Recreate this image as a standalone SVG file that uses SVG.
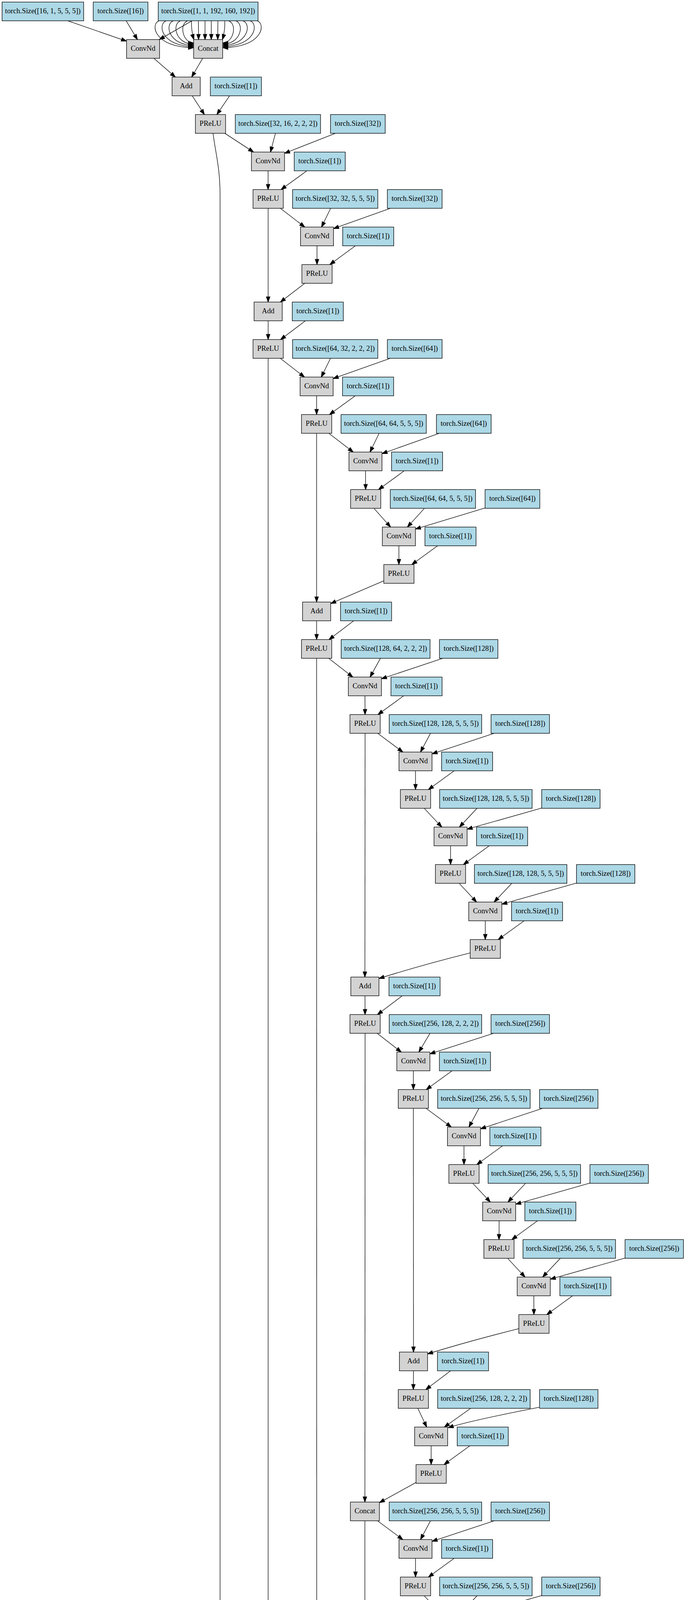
<svg xmlns="http://www.w3.org/2000/svg" width="1755" height="7739" viewBox="0 0 1755 7739">
<style>
.g rect{fill:#d3d3d3;stroke:#000;stroke-width:1.33}
.b rect{fill:#add8e6;stroke:#000;stroke-width:1.33}
text{font-family:"Liberation Serif","Times New Roman",serif;font-size:18.67px;text-anchor:middle;fill:#000}
#edges path{fill:none;stroke:#000;stroke-width:1.33;marker-end:url(#a)}
</style>
<defs>
<marker id="a" viewBox="0 0 14 10" markerUnits="userSpaceOnUse" markerWidth="14" markerHeight="10" refX="13.3" refY="4.67" orient="auto" overflow="visible"><path d="M0,0L13.3,4.67L0,9.33z" fill="#000" stroke="#000" stroke-width="1.33"/></marker>
</defs>
<rect width="1755" height="7739" fill="#fff"/>
<g id="edges">
<path d="M173.8,53.33L323.7,105.4"/>
<path d="M322.9,53.33L351.6,101.33"/>
<path d="M490.9,53.33L407.6,101.33"/>
<path d="M490,53.33C489,72 492,88 496,101.33"/>
<path d="M507.5,53.33L508,101.33"/>
<path d="M524.5,53.33L524.5,101.33"/>
<path d="M540.5,53.33L540.5,101.33"/>
<path d="M557.5,53.33L557,101.33"/>
<path d="M575,53.33C576,72 573,88 569,101.33"/>
<path d="M480,53.33C457,62 468,110 495.3,110"/>
<path d="M461.7,53.33C438.7,62 449.7,113 495.3,113"/>
<path d="M443.3,53.33C420.3,62 431.3,116 495.3,116"/>
<path d="M425,53.33C402,62 413,119 495.3,119"/>
<path d="M406.7,53.33C383.7,62 394.7,122 495.3,122"/>
<path d="M585,53.33C608,62 597,110 569.7,110"/>
<path d="M603.3,53.33C626.3,62 615.3,113 569.7,113"/>
<path d="M621.7,53.33C644.7,62 633.7,116 569.7,116"/>
<path d="M640,53.33C663,62 652,119 569.7,119"/>
<path d="M658.3,53.33C681.3,62 670.3,122 569.7,122"/>
<path d="M393.6,149.33L448.7,197.33"/>
<path d="M518.45,149.33L490.35,197.33"/>
<path d="M491.85,245.33L522.95,293.33"/>
<path d="M587.25,245.33L554.75,293.33"/>
<path d="M575.3,341.33L648.8,389.33"/>
<path d="M704.65,341.33L691.95,389.33"/>
<path d="M858,341.33L727.9,392.5"/>
<path d="M545,341.33C552,395 563,430 563,500L563,6290C563,6370 587,6400 593,6437.33"/>
<path d="M685.8,437.33L685.9,485.33"/>
<path d="M785,437.33L719,485.33"/>
<path d="M717.25,533.33L779.75,581.33"/>
<path d="M845.9,533.33L822.6,581.33"/>
<path d="M998.5,533.33L853.3,585.2"/>
<path d="M686,533.33L686,773.33"/>
<path d="M811,629.33L811,677.33"/>
<path d="M909.25,629.33L843.75,677.33"/>
<path d="M779.75,725.33L717.25,773.33"/>
<path d="M686,821.33L686,869.33"/>
<path d="M781.25,821.33L717.75,869.33"/>
<path d="M717,917.33L779,965.33"/>
<path d="M845.6,917.33L821.9,965.33"/>
<path d="M998.25,917.33L852.3,969.2"/>
<path d="M686,917.33L686,5765.33"/>
<path d="M810,1013.33L810,1061.33"/>
<path d="M908.8,1013.33L842.9,1061.33"/>
<path d="M841.25,1109.33L903.75,1157.33"/>
<path d="M969.9,1109.33L946.6,1157.33"/>
<path d="M1123.6,1109.33L977.3,1161.3"/>
<path d="M810,1109.33L810,1541.33"/>
<path d="M935.1,1205.33L935.4,1253.33"/>
<path d="M1034.1,1205.33L968.4,1253.33"/>
<path d="M956.75,1301.33L999.25,1349.33"/>
<path d="M1085.75,1301.33L1042.25,1349.33"/>
<path d="M1241,1300.46L1062.8,1354.3"/>
<path d="M1020.5,1397.33L1020.5,1445.33"/>
<path d="M1119.5,1397.33L1053.5,1445.33"/>
<path d="M981.85,1486.96L846,1545.1"/>
<path d="M810,1589.33L810,1637.33"/>
<path d="M904.9,1589.33L841.6,1637.33"/>
<path d="M840.9,1685.33L902.6,1733.33"/>
<path d="M973.25,1685.33L946.75,1733.33"/>
<path d="M1132.6,1685.33L975.8,1737.7"/>
<path d="M810,1685.33L810.4,4901.33"/>
<path d="M933.6,1781.33L933.9,1829.33"/>
<path d="M1032.7,1781.33L966.9,1829.33"/>
<path d="M966.25,1877.33L1030.75,1925.33"/>
<path d="M1101.25,1877.33L1075.75,1925.33"/>
<path d="M1264,1877.33L1105.3,1929.8"/>
<path d="M934,1877.33L933.5,2501.33"/>
<path d="M1063,1973.33L1063,2021.33"/>
<path d="M1162,1973.33L1096,2021.33"/>
<path d="M1085.4,2069.33L1130.3,2117.33"/>
<path d="M1220.4,2069.33L1175.3,2117.33"/>
<path d="M1385.8,2068.63L1195,2122.7"/>
<path d="M1152.6,2165.33L1152.6,2213.33"/>
<path d="M1251.5,2165.33L1185.5,2213.33"/>
<path d="M1174.75,2261.33L1219.25,2309.33"/>
<path d="M1309.4,2261.33L1264.1,2309.33"/>
<path d="M1474.8,2260.61L1283.8,2314.7"/>
<path d="M1241.5,2357.33L1241.5,2405.33"/>
<path d="M1340.9,2357.33L1274.6,2405.33"/>
<path d="M1203.3,2439.3Q1075.3,2471.3 969.5,2505"/>
<path d="M933.7,2549.33L933.9,2597.33"/>
<path d="M1028.9,2549.33L965.6,2597.33"/>
<path d="M964.9,2645.33L1026.6,2693.33"/>
<path d="M1099.9,2645.33L1071.6,2693.33"/>
<path d="M1262.6,2645.33L1099.8,2697.9"/>
<path d="M934,2645.33L933.5,3845.33"/>
<path d="M1057.5,2741.33L1057.5,2789.33"/>
<path d="M1156.5,2741.33L1090.5,2789.33"/>
<path d="M1089.9,2837.33L1154.6,2885.33"/>
<path d="M1225.25,2837.33L1199.75,2885.33"/>
<path d="M1388,2837.33L1229.3,2889.8"/>
<path d="M1057.5,2837.33L1057.8,3461.33"/>
<path d="M1187,2933.33L1187,2981.33"/>
<path d="M1285.6,2933.33L1219.9,2981.33"/>
<path d="M1209.5,3029.33L1254.5,3077.33"/>
<path d="M1344.5,3029.33L1299.5,3077.33"/>
<path d="M1509.3,3028.69L1319.3,3082.7"/>
<path d="M1276.9,3125.33L1276.6,3173.33"/>
<path d="M1375.1,3125.33L1309.4,3173.33"/>
<path d="M1298.75,3221.33L1343.25,3269.33"/>
<path d="M1433.6,3221.33L1388.2,3269.33"/>
<path d="M1599.1,3220.59L1407.8,3274.7"/>
<path d="M1365.6,3317.33L1365.9,3365.33"/>
<path d="M1464.8,3317.33L1398.9,3365.33"/>
<path d="M1327.35,3401.37Q1199.35,3433.4 1093.8,3466"/>
<path d="M1057.8,3509.33L1057.5,3557.33"/>
<path d="M1152.75,3509.33L1089.25,3557.33"/>
<path d="M1068.9,3605.33L1091.6,3653.33"/>
<path d="M1204.25,3605.33L1136.75,3653.33"/>
<path d="M1379.3,3602.7Q1206.3,3636.4 1146.5,3654.8"/>
<path d="M1103,3701.33L1103,3749.33"/>
<path d="M1202,3701.33L1136,3749.33"/>
<path d="M1064.35,3795.2L970.6,3846.8"/>
<path d="M965.9,3893.33L1030.6,3941.33"/>
<path d="M1101.25,3893.33L1075.75,3941.33"/>
<path d="M1264,3893.33L1105.3,3945.8"/>
<path d="M933.5,3893.33L933.5,4517.33"/>
<path d="M1063,3989.33L1063,4037.33"/>
<path d="M1162,3989.33L1096,4037.33"/>
<path d="M1085.4,4085.33L1130.3,4133.33"/>
<path d="M1220.4,4085.33L1175.3,4133.33"/>
<path d="M1385.8,4084.63L1195,4138.7"/>
<path d="M1152.6,4181.33L1152.6,4229.33"/>
<path d="M1251.5,4181.33L1185.5,4229.33"/>
<path d="M1174.75,4277.33L1219.25,4325.33"/>
<path d="M1309.4,4277.33L1264.1,4325.33"/>
<path d="M1474.8,4276.61L1283.8,4330.7"/>
<path d="M1241.5,4373.33L1241.5,4421.33"/>
<path d="M1340.9,4373.33L1274.6,4421.33"/>
<path d="M1202.85,4457.38Q1074.85,4489.4 969.5,4521"/>
<path d="M933.6,4565.33L933.9,4613.33"/>
<path d="M1028.9,4565.33L965.6,4613.33"/>
<path d="M944.9,4661.33L966.8,4709.33"/>
<path d="M1076.9,4661.33L1010.8,4709.33"/>
<path d="M1248,4657.08Q1111.3,4683.7 1020.5,4711"/>
<path d="M977.6,4757.33L977.6,4805.33"/>
<path d="M1076.9,4757.33L1010.6,4805.33"/>
<path d="M938.85,4851.5L847.5,4902.7"/>
<path d="M842.4,4949.33L906.5,4997.33"/>
<path d="M977.1,4949.33L951.4,4997.33"/>
<path d="M1139.6,4949.33L980.8,5001.8"/>
<path d="M810.4,4949.33L810,5381.33"/>
<path d="M938.5,5045.33L938.5,5093.33"/>
<path d="M1037.9,5045.33L971.6,5093.33"/>
<path d="M961,5141.33L1006,5189.33"/>
<path d="M1096.4,5141.33L1051.1,5189.33"/>
<path d="M1261.8,5140.61L1070.8,5194.7"/>
<path d="M1028.4,5237.33L1028.1,5285.33"/>
<path d="M1127,5237.33L1061,5285.33"/>
<path d="M989.35,5326.35L846,5385.4"/>
<path d="M810,5429.33L810,5477.33"/>
<path d="M904.9,5429.33L841.6,5477.33"/>
<path d="M821,5525.33L843,5573.33"/>
<path d="M953,5525.33L887,5573.33"/>
<path d="M1124,5521.1Q987.3,5547.8 896.8,5575"/>
<path d="M854,5621.33L854,5669.33"/>
<path d="M953,5621.33L887,5669.33"/>
<path d="M815.35,5715.4L723.1,5766.7"/>
<path d="M717.25,5813.33L779.75,5861.33"/>
<path d="M845.5,5813.33L822.5,5861.33"/>
<path d="M998.1,5813.33L853.3,5865.2"/>
<path d="M686,5813.33L686,6053.33"/>
<path d="M811,5909.33L811,5957.33"/>
<path d="M909.6,5909.33L843.9,5957.33"/>
<path d="M779.75,6005.33L717.25,6053.33"/>
<path d="M686,6101.33L686,6149.33"/>
<path d="M781.25,6101.33L717.75,6149.33"/>
<path d="M696.6,6197.33L717.9,6245.33"/>
<path d="M825.25,6197.33L760.75,6245.33"/>
<path d="M992,6193.48Q871,6217.1 771.3,6247"/>
<path d="M728.5,6293.33L728.6,6341.33"/>
<path d="M827.9,6293.33L761.7,6341.33"/>
<path d="M697.4,6389.33L634.9,6437.33"/>
<path d="M640.5,6485.33L714.2,6533.33"/>
<path d="M768.25,6485.33L756.75,6533.33"/>
<path d="M920.5,6485.33L793.3,6536.4"/>
<path d="M608.9,6485.33L660.8,6725.33"/>
<path d="M751.1,6581.33L751.4,6629.33"/>
<path d="M850.1,6581.33L784.4,6629.33"/>
<path d="M730.1,6677.33L687.4,6725.33"/>
<path d="M681.5,6773.33L712.5,6821.33"/>
<path d="M776.75,6773.33L744.25,6821.33"/>
<path d="M766.65,6867.55L853.25,6917.33"/>
<path d="M895,6869.33L895,6917.33"/>
<path d="M1041.25,6869.33L937.3,6918.9"/>
<path d="M911.4,6965.33L944.3,7013.33"/>
<path d="M1010.4,6965.33L977.3,7013.33"/>
<path d="M999.35,7060.33L1081.7,7109.33"/>
<path d="M1122,7061.33L1122,7109.33"/>
<path d="M1264.9,7061.33L1164.3,7110.7"/>
<path d="M1122,7157.33L1122,7205.33"/>
<path d="M1122,7253.33L1122,7301.33"/>
<path d="M1122,7349.33L1122,7397.33"/>
<path d="M1122,7445.33L1122,7493.33"/>
<path d="M1122,7541.33L1122,7589.33"/>
<path d="M1146.4,7637.33L1195.1,7685.33"/>
<path d="M1292.6,7637.33L1243.9,7685.33"/>
</g>
<g id="nodes">
<g id="n0a" class="b"><rect x="5.35" y="5.33" width="208.7" height="48"/><text x="109.7" y="34.33">torch.Size([16, 1, 5, 5, 5])</text></g>
<g id="n0b" class="b"><rect x="238.5" y="5.33" width="140" height="48"/><text x="308.5" y="34.33">torch.Size([16])</text></g>
<g id="n0c" class="b"><rect x="404.8" y="5.33" width="255.4" height="48"/><text x="532.5" y="34.33">torch.Size([1, 1, 192, 160, 192])</text></g>
<g id="n1a" class="g"><rect x="323.7" y="101.33" width="84.6" height="48"/><text x="366" y="130.33">ConvNd</text></g>
<g id="n1b" class="g"><rect x="495.4" y="101.33" width="74.2" height="48"/><text x="532.5" y="130.33">Concat</text></g>
<g id="n2a" class="g"><rect x="440.3" y="197.33" width="72" height="48"/><text x="476.3" y="226.33">Add</text></g>
<g id="n2b" class="b"><rect x="538.15" y="197.33" width="130.7" height="48"/><text x="603.5" y="226.33">torch.Size([1])</text></g>
<g id="n3a" class="g"><rect x="499.85" y="293.33" width="77.3" height="48"/><text x="538.5" y="322.33">PReLU</text></g>
<g id="n3b" class="b"><rect x="601.95" y="293.33" width="218.1" height="48"/><text x="711" y="322.33">torch.Size([32, 16, 2, 2, 2])</text></g>
<g id="n3c" class="b"><rect x="845.5" y="293.33" width="140" height="48"/><text x="915.5" y="322.33">torch.Size([32])</text></g>
<g id="n4a" class="g"><rect x="643.3" y="389.33" width="84.6" height="48"/><text x="685.6" y="418.33">ConvNd</text></g>
<g id="n4b" class="b"><rect x="752.65" y="389.33" width="130.7" height="48"/><text x="818" y="418.33">torch.Size([1])</text></g>
<g id="n5a" class="g"><rect x="647.35" y="485.33" width="77.3" height="48"/><text x="686" y="514.33">PReLU</text></g>
<g id="n5b" class="b"><rect x="748.45" y="485.33" width="218.1" height="48"/><text x="857.5" y="514.33">torch.Size([32, 32, 5, 5, 5])</text></g>
<g id="n5c" class="b"><rect x="991" y="485.33" width="140" height="48"/><text x="1061" y="514.33">torch.Size([32])</text></g>
<g id="n6a" class="g"><rect x="768.7" y="581.33" width="84.6" height="48"/><text x="811" y="610.33">ConvNd</text></g>
<g id="n6b" class="b"><rect x="876.65" y="581.33" width="130.7" height="48"/><text x="942" y="610.33">torch.Size([1])</text></g>
<g id="n7a" class="g"><rect x="772.35" y="677.33" width="77.3" height="48"/><text x="811" y="706.33">PReLU</text></g>
<g id="n8a" class="g"><rect x="650" y="773.33" width="72" height="48"/><text x="686" y="802.33">Add</text></g>
<g id="n8b" class="b"><rect x="747.65" y="773.33" width="130.7" height="48"/><text x="813" y="802.33">torch.Size([1])</text></g>
<g id="n9a" class="g"><rect x="647.35" y="869.33" width="77.3" height="48"/><text x="686" y="898.33">PReLU</text></g>
<g id="n9b" class="b"><rect x="748.45" y="869.33" width="218.1" height="48"/><text x="857.5" y="898.33">torch.Size([64, 32, 2, 2, 2])</text></g>
<g id="n9c" class="b"><rect x="991" y="869.33" width="140" height="48"/><text x="1061" y="898.33">torch.Size([64])</text></g>
<g id="n10a" class="g"><rect x="767.7" y="965.33" width="84.6" height="48"/><text x="810" y="994.33">ConvNd</text></g>
<g id="n10b" class="b"><rect x="876.35" y="965.33" width="130.7" height="48"/><text x="941.7" y="994.33">torch.Size([1])</text></g>
<g id="n11a" class="g"><rect x="771.35" y="1061.33" width="77.3" height="48"/><text x="810" y="1090.33">PReLU</text></g>
<g id="n11b" class="b"><rect x="872.45" y="1061.33" width="218.1" height="48"/><text x="981.5" y="1090.33">torch.Size([64, 64, 5, 5, 5])</text></g>
<g id="n11c" class="b"><rect x="1116.5" y="1061.33" width="140" height="48"/><text x="1186.5" y="1090.33">torch.Size([64])</text></g>
<g id="n12a" class="g"><rect x="892.7" y="1157.33" width="84.6" height="48"/><text x="935" y="1186.33">ConvNd</text></g>
<g id="n12b" class="b"><rect x="1001.65" y="1157.33" width="130.7" height="48"/><text x="1067" y="1186.33">torch.Size([1])</text></g>
<g id="n13a" class="g"><rect x="896.85" y="1253.33" width="77.3" height="48"/><text x="935.5" y="1282.33">PReLU</text></g>
<g id="n13b" class="b"><rect x="998.45" y="1253.33" width="218.1" height="48"/><text x="1107.5" y="1282.33">torch.Size([64, 64, 5, 5, 5])</text></g>
<g id="n13c" class="b"><rect x="1241" y="1253.33" width="140" height="48"/><text x="1311" y="1282.33">torch.Size([64])</text></g>
<g id="n14a" class="g"><rect x="978.2" y="1349.33" width="84.6" height="48"/><text x="1020.5" y="1378.33">ConvNd</text></g>
<g id="n14b" class="b"><rect x="1087.15" y="1349.33" width="130.7" height="48"/><text x="1152.5" y="1378.33">torch.Size([1])</text></g>
<g id="n15a" class="g"><rect x="981.85" y="1445.33" width="77.3" height="48"/><text x="1020.5" y="1474.33">PReLU</text></g>
<g id="n16a" class="g"><rect x="774" y="1541.33" width="72" height="48"/><text x="810" y="1570.33">Add</text></g>
<g id="n16b" class="b"><rect x="871.15" y="1541.33" width="130.7" height="48"/><text x="936.5" y="1570.33">torch.Size([1])</text></g>
<g id="n17a" class="g"><rect x="771.35" y="1637.33" width="77.3" height="48"/><text x="810" y="1666.33">PReLU</text></g>
<g id="n17b" class="b"><rect x="872.8" y="1637.33" width="227.4" height="48"/><text x="986.5" y="1666.33">torch.Size([128, 64, 2, 2, 2])</text></g>
<g id="n17c" class="b"><rect x="1124.3" y="1637.33" width="149.4" height="48"/><text x="1199" y="1666.33">torch.Size([128])</text></g>
<g id="n18a" class="g"><rect x="891.2" y="1733.33" width="84.6" height="48"/><text x="933.5" y="1762.33">ConvNd</text></g>
<g id="n18b" class="b"><rect x="1000.25" y="1733.33" width="130.7" height="48"/><text x="1065.6" y="1762.33">torch.Size([1])</text></g>
<g id="n19a" class="g"><rect x="895.35" y="1829.33" width="77.3" height="48"/><text x="934" y="1858.33">PReLU</text></g>
<g id="n19b" class="b"><rect x="995.65" y="1829.33" width="236.7" height="48"/><text x="1114" y="1858.33">torch.Size([128, 128, 5, 5, 5])</text></g>
<g id="n19c" class="b"><rect x="1256.3" y="1829.33" width="149.4" height="48"/><text x="1331" y="1858.33">torch.Size([128])</text></g>
<g id="n20a" class="g"><rect x="1020.7" y="1925.33" width="84.6" height="48"/><text x="1063" y="1954.33">ConvNd</text></g>
<g id="n20b" class="b"><rect x="1129.65" y="1925.33" width="130.7" height="48"/><text x="1195" y="1954.33">torch.Size([1])</text></g>
<g id="n21a" class="g"><rect x="1024.35" y="2021.33" width="77.3" height="48"/><text x="1063" y="2050.33">PReLU</text></g>
<g id="n21b" class="b"><rect x="1124.65" y="2021.33" width="236.7" height="48"/><text x="1243" y="2050.33">torch.Size([128, 128, 5, 5, 5])</text></g>
<g id="n21c" class="b"><rect x="1385.8" y="2021.33" width="149.4" height="48"/><text x="1460.5" y="2050.33">torch.Size([128])</text></g>
<g id="n22a" class="g"><rect x="1110.4" y="2117.33" width="84.6" height="48"/><text x="1152.7" y="2146.33">ConvNd</text></g>
<g id="n22b" class="b"><rect x="1219.15" y="2117.33" width="130.7" height="48"/><text x="1284.5" y="2146.33">torch.Size([1])</text></g>
<g id="n23a" class="g"><rect x="1113.85" y="2213.33" width="77.3" height="48"/><text x="1152.5" y="2242.33">PReLU</text></g>
<g id="n23b" class="b"><rect x="1213.65" y="2213.33" width="236.7" height="48"/><text x="1332" y="2242.33">torch.Size([128, 128, 5, 5, 5])</text></g>
<g id="n23c" class="b"><rect x="1474.8" y="2213.33" width="149.4" height="48"/><text x="1549.5" y="2242.33">torch.Size([128])</text></g>
<g id="n24a" class="g"><rect x="1199.2" y="2309.33" width="84.6" height="48"/><text x="1241.5" y="2338.33">ConvNd</text></g>
<g id="n24b" class="b"><rect x="1308.65" y="2309.33" width="130.7" height="48"/><text x="1374" y="2338.33">torch.Size([1])</text></g>
<g id="n25a" class="g"><rect x="1202.85" y="2405.33" width="77.3" height="48"/><text x="1241.5" y="2434.33">PReLU</text></g>
<g id="n26a" class="g"><rect x="897.5" y="2501.33" width="72" height="48"/><text x="933.5" y="2530.33">Add</text></g>
<g id="n26b" class="b"><rect x="995.15" y="2501.33" width="130.7" height="48"/><text x="1060.5" y="2530.33">torch.Size([1])</text></g>
<g id="n27a" class="g"><rect x="895.35" y="2597.33" width="77.3" height="48"/><text x="934" y="2626.33">PReLU</text></g>
<g id="n27b" class="b"><rect x="995.65" y="2597.33" width="236.7" height="48"/><text x="1114" y="2626.33">torch.Size([256, 128, 2, 2, 2])</text></g>
<g id="n27c" class="b"><rect x="1256.3" y="2597.33" width="149.4" height="48"/><text x="1331" y="2626.33">torch.Size([256])</text></g>
<g id="n28a" class="g"><rect x="1015.2" y="2693.33" width="84.6" height="48"/><text x="1057.5" y="2722.33">ConvNd</text></g>
<g id="n28b" class="b"><rect x="1124.15" y="2693.33" width="130.7" height="48"/><text x="1189.5" y="2722.33">torch.Size([1])</text></g>
<g id="n29a" class="g"><rect x="1018.85" y="2789.33" width="77.3" height="48"/><text x="1057.5" y="2818.33">PReLU</text></g>
<g id="n29b" class="b"><rect x="1119.65" y="2789.33" width="236.7" height="48"/><text x="1238" y="2818.33">torch.Size([256, 256, 5, 5, 5])</text></g>
<g id="n29c" class="b"><rect x="1380.3" y="2789.33" width="149.4" height="48"/><text x="1455" y="2818.33">torch.Size([256])</text></g>
<g id="n30a" class="g"><rect x="1144.7" y="2885.33" width="84.6" height="48"/><text x="1187" y="2914.33">ConvNd</text></g>
<g id="n30b" class="b"><rect x="1253.15" y="2885.33" width="130.7" height="48"/><text x="1318.5" y="2914.33">torch.Size([1])</text></g>
<g id="n31a" class="g"><rect x="1148.35" y="2981.33" width="77.3" height="48"/><text x="1187" y="3010.33">PReLU</text></g>
<g id="n31b" class="b"><rect x="1248.65" y="2981.33" width="236.7" height="48"/><text x="1367" y="3010.33">torch.Size([256, 256, 5, 5, 5])</text></g>
<g id="n31c" class="b"><rect x="1509.3" y="2981.33" width="149.4" height="48"/><text x="1584" y="3010.33">torch.Size([256])</text></g>
<g id="n32a" class="g"><rect x="1234.7" y="3077.33" width="84.6" height="48"/><text x="1277" y="3106.33">ConvNd</text></g>
<g id="n32b" class="b"><rect x="1342.65" y="3077.33" width="130.7" height="48"/><text x="1408" y="3106.33">torch.Size([1])</text></g>
<g id="n33a" class="g"><rect x="1237.85" y="3173.33" width="77.3" height="48"/><text x="1276.5" y="3202.33">PReLU</text></g>
<g id="n33b" class="b"><rect x="1337.95" y="3173.33" width="236.7" height="48"/><text x="1456.3" y="3202.33">torch.Size([256, 256, 5, 5, 5])</text></g>
<g id="n33c" class="b"><rect x="1599.1" y="3173.33" width="149.4" height="48"/><text x="1673.8" y="3202.33">torch.Size([256])</text></g>
<g id="n34a" class="g"><rect x="1323.2" y="3269.33" width="84.6" height="48"/><text x="1365.5" y="3298.33">ConvNd</text></g>
<g id="n34b" class="b"><rect x="1432.35" y="3269.33" width="130.7" height="48"/><text x="1497.7" y="3298.33">torch.Size([1])</text></g>
<g id="n35a" class="g"><rect x="1327.35" y="3365.33" width="77.3" height="48"/><text x="1366" y="3394.33">PReLU</text></g>
<g id="n36a" class="g"><rect x="1021.8" y="3461.33" width="72" height="48"/><text x="1057.8" y="3490.33">Add</text></g>
<g id="n36b" class="b"><rect x="1119.15" y="3461.33" width="130.7" height="48"/><text x="1184.5" y="3490.33">torch.Size([1])</text></g>
<g id="n37a" class="g"><rect x="1018.85" y="3557.33" width="77.3" height="48"/><text x="1057.5" y="3586.33">PReLU</text></g>
<g id="n37b" class="b"><rect x="1119.65" y="3557.33" width="236.7" height="48"/><text x="1238" y="3586.33">torch.Size([256, 128, 2, 2, 2])</text></g>
<g id="n37c" class="b"><rect x="1380.3" y="3557.33" width="149.4" height="48"/><text x="1455" y="3586.33">torch.Size([128])</text></g>
<g id="n38a" class="g"><rect x="1060.7" y="3653.33" width="84.6" height="48"/><text x="1103" y="3682.33">ConvNd</text></g>
<g id="n38b" class="b"><rect x="1169.65" y="3653.33" width="130.7" height="48"/><text x="1235" y="3682.33">torch.Size([1])</text></g>
<g id="n39a" class="g"><rect x="1064.35" y="3749.33" width="77.3" height="48"/><text x="1103" y="3778.33">PReLU</text></g>
<g id="n40a" class="g"><rect x="896.4" y="3845.33" width="74.2" height="48"/><text x="933.5" y="3874.33">Concat</text></g>
<g id="n40b" class="b"><rect x="995.65" y="3845.33" width="236.7" height="48"/><text x="1114" y="3874.33">torch.Size([256, 256, 5, 5, 5])</text></g>
<g id="n40c" class="b"><rect x="1256.3" y="3845.33" width="149.4" height="48"/><text x="1331" y="3874.33">torch.Size([256])</text></g>
<g id="n41a" class="g"><rect x="1020.7" y="3941.33" width="84.6" height="48"/><text x="1063" y="3970.33">ConvNd</text></g>
<g id="n41b" class="b"><rect x="1129.65" y="3941.33" width="130.7" height="48"/><text x="1195" y="3970.33">torch.Size([1])</text></g>
<g id="n42a" class="g"><rect x="1024.35" y="4037.33" width="77.3" height="48"/><text x="1063" y="4066.33">PReLU</text></g>
<g id="n42b" class="b"><rect x="1124.65" y="4037.33" width="236.7" height="48"/><text x="1243" y="4066.33">torch.Size([256, 256, 5, 5, 5])</text></g>
<g id="n42c" class="b"><rect x="1385.8" y="4037.33" width="149.4" height="48"/><text x="1460.5" y="4066.33">torch.Size([256])</text></g>
<g id="n43a" class="g"><rect x="1110.4" y="4133.33" width="84.6" height="48"/><text x="1152.7" y="4162.33">ConvNd</text></g>
<g id="n43b" class="b"><rect x="1219.15" y="4133.33" width="130.7" height="48"/><text x="1284.5" y="4162.33">torch.Size([1])</text></g>
<g id="n44a" class="g"><rect x="1113.85" y="4229.33" width="77.3" height="48"/><text x="1152.5" y="4258.33">PReLU</text></g>
<g id="n44b" class="b"><rect x="1213.65" y="4229.33" width="236.7" height="48"/><text x="1332" y="4258.33">torch.Size([256, 256, 5, 5, 5])</text></g>
<g id="n44c" class="b"><rect x="1474.8" y="4229.33" width="149.4" height="48"/><text x="1549.5" y="4258.33">torch.Size([256])</text></g>
<g id="n45a" class="g"><rect x="1199.2" y="4325.33" width="84.6" height="48"/><text x="1241.5" y="4354.33">ConvNd</text></g>
<g id="n45b" class="b"><rect x="1308.65" y="4325.33" width="130.7" height="48"/><text x="1374" y="4354.33">torch.Size([1])</text></g>
<g id="n46a" class="g"><rect x="1202.85" y="4421.33" width="77.3" height="48"/><text x="1241.5" y="4450.33">PReLU</text></g>
<g id="n47a" class="g"><rect x="897.5" y="4517.33" width="72" height="48"/><text x="933.5" y="4546.33">Add</text></g>
<g id="n47b" class="b"><rect x="995.15" y="4517.33" width="130.7" height="48"/><text x="1060.5" y="4546.33">torch.Size([1])</text></g>
<g id="n48a" class="g"><rect x="895.35" y="4613.33" width="77.3" height="48"/><text x="934" y="4642.33">PReLU</text></g>
<g id="n48b" class="b"><rect x="996.3" y="4613.33" width="227.4" height="48"/><text x="1110" y="4642.33">torch.Size([256, 64, 2, 2, 2])</text></g>
<g id="n48c" class="b"><rect x="1248" y="4613.33" width="140" height="48"/><text x="1318" y="4642.33">torch.Size([64])</text></g>
<g id="n49a" class="g"><rect x="935.4" y="4709.33" width="84.6" height="48"/><text x="977.7" y="4738.33">ConvNd</text></g>
<g id="n49b" class="b"><rect x="1044.65" y="4709.33" width="130.7" height="48"/><text x="1110" y="4738.33">torch.Size([1])</text></g>
<g id="n50a" class="g"><rect x="938.85" y="4805.33" width="77.3" height="48"/><text x="977.5" y="4834.33">PReLU</text></g>
<g id="n51a" class="g"><rect x="773.3" y="4901.33" width="74.2" height="48"/><text x="810.4" y="4930.33">Concat</text></g>
<g id="n51b" class="b"><rect x="871.65" y="4901.33" width="236.7" height="48"/><text x="990" y="4930.33">torch.Size([128, 128, 5, 5, 5])</text></g>
<g id="n51c" class="b"><rect x="1131.9" y="4901.33" width="149.4" height="48"/><text x="1206.6" y="4930.33">torch.Size([128])</text></g>
<g id="n52a" class="g"><rect x="896.2" y="4997.33" width="84.6" height="48"/><text x="938.5" y="5026.33">ConvNd</text></g>
<g id="n52b" class="b"><rect x="1005.65" y="4997.33" width="130.7" height="48"/><text x="1071" y="5026.33">torch.Size([1])</text></g>
<g id="n53a" class="g"><rect x="899.85" y="5093.33" width="77.3" height="48"/><text x="938.5" y="5122.33">PReLU</text></g>
<g id="n53b" class="b"><rect x="1000.65" y="5093.33" width="236.7" height="48"/><text x="1119" y="5122.33">torch.Size([128, 128, 5, 5, 5])</text></g>
<g id="n53c" class="b"><rect x="1261.8" y="5093.33" width="149.4" height="48"/><text x="1336.5" y="5122.33">torch.Size([128])</text></g>
<g id="n54a" class="g"><rect x="986.2" y="5189.33" width="84.6" height="48"/><text x="1028.5" y="5218.33">ConvNd</text></g>
<g id="n54b" class="b"><rect x="1094.65" y="5189.33" width="130.7" height="48"/><text x="1160" y="5218.33">torch.Size([1])</text></g>
<g id="n55a" class="g"><rect x="989.35" y="5285.33" width="77.3" height="48"/><text x="1028" y="5314.33">PReLU</text></g>
<g id="n56a" class="g"><rect x="774" y="5381.33" width="72" height="48"/><text x="810" y="5410.33">Add</text></g>
<g id="n56b" class="b"><rect x="871.15" y="5381.33" width="130.7" height="48"/><text x="936.5" y="5410.33">torch.Size([1])</text></g>
<g id="n57a" class="g"><rect x="771.35" y="5477.33" width="77.3" height="48"/><text x="810" y="5506.33">PReLU</text></g>
<g id="n57b" class="b"><rect x="872.3" y="5477.33" width="227.4" height="48"/><text x="986" y="5506.33">torch.Size([128, 32, 2, 2, 2])</text></g>
<g id="n57c" class="b"><rect x="1124" y="5477.33" width="140" height="48"/><text x="1194" y="5506.33">torch.Size([32])</text></g>
<g id="n58a" class="g"><rect x="811.7" y="5573.33" width="84.6" height="48"/><text x="854" y="5602.33">ConvNd</text></g>
<g id="n58b" class="b"><rect x="920.65" y="5573.33" width="130.7" height="48"/><text x="986" y="5602.33">torch.Size([1])</text></g>
<g id="n59a" class="g"><rect x="815.35" y="5669.33" width="77.3" height="48"/><text x="854" y="5698.33">PReLU</text></g>
<g id="n60a" class="g"><rect x="648.9" y="5765.33" width="74.2" height="48"/><text x="686" y="5794.33">Concat</text></g>
<g id="n60b" class="b"><rect x="747.95" y="5765.33" width="218.1" height="48"/><text x="857" y="5794.33">torch.Size([64, 64, 5, 5, 5])</text></g>
<g id="n60c" class="b"><rect x="990.5" y="5765.33" width="140" height="48"/><text x="1060.5" y="5794.33">torch.Size([64])</text></g>
<g id="n61a" class="g"><rect x="768.7" y="5861.33" width="84.6" height="48"/><text x="811" y="5890.33">ConvNd</text></g>
<g id="n61b" class="b"><rect x="877.15" y="5861.33" width="130.7" height="48"/><text x="942.5" y="5890.33">torch.Size([1])</text></g>
<g id="n62a" class="g"><rect x="772.35" y="5957.33" width="77.3" height="48"/><text x="811" y="5986.33">PReLU</text></g>
<g id="n63a" class="g"><rect x="650" y="6053.33" width="72" height="48"/><text x="686" y="6082.33">Add</text></g>
<g id="n63b" class="b"><rect x="747.65" y="6053.33" width="130.7" height="48"/><text x="813" y="6082.33">torch.Size([1])</text></g>
<g id="n64a" class="g"><rect x="647.35" y="6149.33" width="77.3" height="48"/><text x="686" y="6178.33">PReLU</text></g>
<g id="n64b" class="b"><rect x="748.45" y="6149.33" width="218.1" height="48"/><text x="857.5" y="6178.33">torch.Size([64, 16, 2, 2, 2])</text></g>
<g id="n64c" class="b"><rect x="992" y="6149.33" width="140" height="48"/><text x="1062" y="6178.33">torch.Size([16])</text></g>
<g id="n65a" class="g"><rect x="686.2" y="6245.33" width="84.6" height="48"/><text x="728.5" y="6274.33">ConvNd</text></g>
<g id="n65b" class="b"><rect x="795.65" y="6245.33" width="130.7" height="48"/><text x="861" y="6274.33">torch.Size([1])</text></g>
<g id="n66a" class="g"><rect x="689.95" y="6341.33" width="77.3" height="48"/><text x="728.6" y="6370.33">PReLU</text></g>
<g id="n67a" class="g"><rect x="566.6" y="6437.33" width="74.2" height="48"/><text x="603.7" y="6466.33">Concat</text></g>
<g id="n67b" class="b"><rect x="664.95" y="6437.33" width="218.1" height="48"/><text x="774" y="6466.33">torch.Size([32, 32, 5, 5, 5])</text></g>
<g id="n67c" class="b"><rect x="907" y="6437.33" width="140" height="48"/><text x="977" y="6466.33">torch.Size([32])</text></g>
<g id="n68a" class="g"><rect x="708.7" y="6533.33" width="84.6" height="48"/><text x="751" y="6562.33">ConvNd</text></g>
<g id="n68b" class="b"><rect x="817.65" y="6533.33" width="130.7" height="48"/><text x="883" y="6562.33">torch.Size([1])</text></g>
<g id="n69a" class="g"><rect x="712.85" y="6629.33" width="77.3" height="48"/><text x="751.5" y="6658.33">PReLU</text></g>
<g id="n70a" class="g"><rect x="630" y="6725.33" width="72" height="48"/><text x="666" y="6754.33">Add</text></g>
<g id="n70b" class="b"><rect x="727.65" y="6725.33" width="130.7" height="48"/><text x="793" y="6754.33">torch.Size([1])</text></g>
<g id="n71a" class="g"><rect x="689.35" y="6821.33" width="77.3" height="48"/><text x="728" y="6850.33">PReLU</text></g>
<g id="n71b" class="b"><rect x="790.65" y="6821.33" width="208.7" height="48"/><text x="895" y="6850.33">torch.Size([2, 32, 5, 5, 5])</text></g>
<g id="n71c" class="b"><rect x="1024.65" y="6821.33" width="130.7" height="48"/><text x="1090" y="6850.33">torch.Size([2])</text></g>
<g id="n72a" class="g"><rect x="852.7" y="6917.33" width="84.6" height="48"/><text x="895" y="6946.33">ConvNd</text></g>
<g id="n72b" class="b"><rect x="961.65" y="6917.33" width="130.7" height="48"/><text x="1027" y="6946.33">torch.Size([1])</text></g>
<g id="n73a" class="g"><rect x="922.05" y="7013.33" width="77.3" height="48"/><text x="960.7" y="7042.33">PReLU</text></g>
<g id="n73b" class="b"><rect x="1022.3" y="7013.33" width="199.4" height="48"/><text x="1122" y="7042.33">torch.Size([2, 2, 1, 1, 1])</text></g>
<g id="n73c" class="b"><rect x="1247.15" y="7013.33" width="130.7" height="48"/><text x="1312.5" y="7042.33">torch.Size([2])</text></g>
<g id="n74a" class="g"><rect x="1079.7" y="7109.33" width="84.6" height="48"/><text x="1122" y="7138.33">ConvNd</text></g>
<g id="n75a" class="g"><rect x="1080.25" y="7205.33" width="83.5" height="48"/><text x="1122" y="7234.33">Permute</text></g>
<g id="n76a" class="g"><rect x="1086" y="7301.33" width="72" height="48"/><text x="1122" y="7330.33">View</text></g>
<g id="n77a" class="g"><rect x="1080.25" y="7397.33" width="83.5" height="48"/><text x="1122" y="7426.33">Permute</text></g>
<g id="n78a" class="g"><rect x="1079.7" y="7493.33" width="84.6" height="48"/><text x="1122" y="7522.33">Softmax</text></g>
<g id="n79a" class="g"><rect x="1080.25" y="7589.33" width="83.5" height="48"/><text x="1122" y="7618.33">Permute</text></g>
<g id="n79b" class="b"><rect x="1189.3" y="7589.33" width="255.4" height="48"/><text x="1317" y="7618.33">torch.Size([1, 1, 192, 160, 192])</text></g>
<g id="n80a" class="g"><rect x="1173.6" y="7685.33" width="91.8" height="48"/><text x="1219.5" y="7714.33">DiceLoss</text></g>
</g>
</svg>
